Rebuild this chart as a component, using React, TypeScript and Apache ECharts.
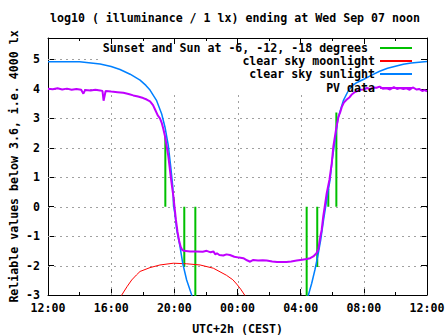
import React, { useEffect, useRef } from 'react';
import * as echarts from 'echarts';

const FONT = '"DejaVu Sans Mono", "Liberation Mono", monospace';

const titleText = 'log10 ( illuminance / 1 lx) ending at Wed Sep 07 noon';
const xAxisName = 'UTC+2h (CEST)';
const yAxisName = 'Reliable values below 3.6, i.e. 4000 lx';

const seriesNames = [
  'Sunset and Sun at -6, -12, -18 degrees',
  'clear sky moonlight',
  'clear sky sunlight',
  'PV data',
];
const seriesColors = ['#00c000', '#ff0000', '#0080ff', '#c000ff'];

// Grid line positions (hours / log10 lx)
const xGridTicks = [16, 20, 24, 28, 32];
const yGridTicks = [-2, -1, 0, 1, 2, 3, 4, 5];

// Sun events (hours since previous midnight, >24 = next day) and the value each marker reaches from 0
const sunHours = [19.43, 19.97, 20.63, 21.33, 28.38, 29.05, 29.75, 30.26];
const sunTops = [2.4, 0.25, -2.05, -3.4, -3.4, -2.05, 0.6, 3.2];

// Clear sky moonlight
const moonHours = [16.4, 16.67, 17.0, 17.3, 17.6, 17.83, 18.46, 19.09, 19.94, 20.78, 21.63, 22.47, 23.3, 23.7, 23.95, 24.2, 24.45, 24.6];
const moonValues = [-3.3, -3.0, -2.72, -2.49, -2.32, -2.2, -2.07, -1.98, -1.92, -1.94, -1.98, -2.09, -2.33, -2.48, -2.63, -2.8, -3.0, -3.15];

// Clear sky sunlight
const sunHoursCurve = [12.0, 14.0, 15.3, 16.0, 16.56, 17.2, 17.83, 18.2, 18.46, 18.88, 19.2, 19.41, 19.62, 19.77, 19.9, 19.96, 20.04, 20.15, 20.36, 20.53, 20.78, 21.1, 21.3,
  28.3, 28.49, 28.7, 28.9, 29.12, 29.27, 29.45, 29.65, 29.86, 30.0, 30.18, 30.35, 30.5, 30.7, 31.0, 31.25, 31.5, 32.0, 32.5, 33.0, 33.5, 34.0, 34.5, 35.0, 35.5, 36.0];
const sunValuesCurve = [4.92, 4.92, 4.85, 4.76, 4.66, 4.5, 4.3, 4.12, 3.96, 3.6, 3.15, 2.7, 2.07, 1.37, 0.69, 0.0, -0.25, -0.79, -1.36, -1.92, -2.49, -3.0, -3.5,
  -3.6, -3.0, -2.6, -2.15, -1.58, -1.13, -0.45, 0.23, 0.91, 1.6, 2.28, 2.96, 3.25, 3.6, 3.92, 4.1, 4.2, 4.33, 4.47, 4.6, 4.7, 4.77, 4.84, 4.88, 4.91, 4.93];

// PV measurements
const pvHours = [12.0, 12.3, 12.6, 12.9, 13.2, 13.5, 13.8, 14.1, 14.24, 14.35, 14.7, 15.0, 15.3, 15.45, 15.52, 15.58, 15.65, 16.0, 16.4, 16.77, 17.1, 17.4, 17.7, 18.03, 18.25, 18.46, 18.65, 18.78, 18.95, 19.09, 19.2, 19.3, 19.41, 19.52, 19.62, 19.7, 19.77, 19.85, 19.94, 20.02, 20.1, 20.2, 20.3, 20.4, 20.5, 20.6, 21.0, 21.4, 21.8, 22.05, 22.3, 22.47, 22.6, 22.7, 22.85, 23.1, 23.3, 23.52, 23.8, 24.1, 24.37, 24.6, 24.8, 25.0, 25.3, 25.6, 25.85, 26.2, 26.5, 26.8, 27.1, 27.4, 27.75, 28.1, 28.38, 28.6, 28.8, 29.0, 29.12, 29.18, 29.25, 29.33, 29.43, 29.54, 29.65, 29.82, 29.97, 30.07, 30.24, 30.39, 30.5, 30.6, 30.75, 30.92, 31.1, 31.23, 31.4, 31.55, 31.75, 31.97, 32.2, 32.4, 32.6, 32.8, 33.0, 33.2, 33.45, 33.66, 33.9, 34.1, 34.3, 34.5, 34.7, 34.9, 35.1, 35.35, 35.5, 35.7, 35.85, 36.0];
const pvValues = [4.01, 3.99, 4.02, 3.98, 4.01, 3.97, 4.0, 3.97, 3.84, 3.96, 3.95, 3.97, 3.95, 3.93, 3.6, 3.75, 3.93, 3.91, 3.89, 3.87, 3.83, 3.78, 3.74, 3.69, 3.64, 3.58, 3.45, 3.3, 3.1, 3.0, 2.85, 2.65, 2.39, 2.05, 1.71, 1.35, 1.03, 0.7, 0.35, -0.05, -0.45, -0.85, -1.15, -1.36, -1.47, -1.5, -1.52, -1.52, -1.53, -1.5, -1.55, -1.52, -1.62, -1.58, -1.64, -1.66, -1.62, -1.64, -1.7, -1.73, -1.75, -1.82, -1.87, -1.81, -1.83, -1.82, -1.83, -1.86, -1.88, -1.88, -1.88, -1.86, -1.83, -1.8, -1.78, -1.75, -1.69, -1.58, -1.45, -1.24, -1.0, -0.79, -0.33, 0.06, 0.46, 0.91, 1.48, 2.05, 2.62, 3.05, 3.2, 3.38, 3.55, 3.64, 3.72, 3.81, 3.88, 3.92, 3.97, 3.98, 4.03, 3.99, 4.05, 4.04, 4.08, 4.01, 4.02, 3.98, 4.06, 4.0, 4.03, 4.0, 4.02, 3.97, 4.05, 3.98, 4.0, 3.93, 3.96, 3.92];

const xMin = 12;
const xMax = 36;
const yMin = -3;
const yMax = 5.73;

const pair = (xs: number[], ys: number[]) => xs.map((x, i) => [x, ys[i]]);

const hourLabel = (v: number) => {
  const h = ((Math.round(v) % 24) + 24) % 24;
  return String(h).padStart(2, '0') + ':00';
};

export default function App() {
  const ref = useRef<HTMLDivElement>(null);
  useEffect(() => {
    if (!ref.current) return;
    const chart = echarts.init(ref.current, undefined, { renderer: 'svg' });
    const FS = 11.6;
    const textBase = { fontFamily: FONT, fontWeight: 'bold' as const, fontSize: FS, color: '#000' };

    const greenData: any[] = [];
    sunHours.forEach((h, i) => {
      greenData.push([h, 0], [h, sunTops[i]], [h, null]);
    });

    // the key area keeps grid lines out (gnuplot style): its lower-left corner in data units
    const keyLeftHour = 15.25;
    const keyBottomValue = 3.86;
    const gridData: number[][] = [];
    xGridTicks.forEach((x) => {
      gridData.push([x, yMin, x, x > keyLeftHour ? keyBottomValue : yMax]);
    });
    yGridTicks.forEach((y) => {
      gridData.push([xMin, y, y > keyBottomValue - 0.2 ? keyLeftHour : xMax, y]);
    });

    const axisLine = { show: true, onZero: false, lineStyle: { color: '#000', width: 1 } };
    const axisTick = { show: true, inside: true, length: 6, lineStyle: { color: '#000', width: 1 } };

    chart.setOption({
      animation: false,
      backgroundColor: '#fff',
      title: {
        text: titleText,
        left: 50,
        top: 12,
        padding: 0,
        textStyle: textBase,
      },
      grid: { left: 48, right: 20, top: 38, bottom: 40, containLabel: false, outerBoundsMode: 'none' },
      legend: seriesNames.map((n, i) => ({
        data: [n],
        right: 35,
        top: [42, 55, 68, 82][i],
        orient: 'horizontal',
        align: 'right',
        padding: 0,
        itemWidth: 32,
        itemHeight: 2,
        icon: 'rect',
        itemStyle: { borderWidth: 0 },
        selectedMode: false,
        formatter: i === 0 ? '{a|{name}}' : '{name}',
        textStyle: {
          ...textBase,
          rich: { a: { ...textBase, padding: [0, 7, 0, 0] } },
        },
      })),
      xAxis: [
        {
          type: 'value',
          min: xMin,
          max: xMax,
          interval: 4,
          position: 'bottom',
          axisLine,
          axisTick,
          minorTick: { show: true, splitNumber: 2, length: 3, lineStyle: { color: '#000' } },
          splitLine: { show: false },
          axisLabel: { ...textBase, margin: 7, formatter: hourLabel },
          name: xAxisName,
          nameLocation: 'middle',
          nameGap: 28,
          nameTextStyle: textBase,
        },
        {
          type: 'value',
          min: xMin,
          max: xMax,
          interval: 4,
          position: 'top',
          axisLine,
          axisTick,
          minorTick: { show: true, splitNumber: 2, length: 3, lineStyle: { color: '#000' } },
          splitLine: { show: false },
          axisLabel: { show: false },
        },
      ],
      yAxis: [
        {
          type: 'value',
          min: yMin,
          max: yMax,
          interval: 1,
          position: 'left',
          axisLine,
          axisTick,
          splitLine: { show: false },
          axisLabel: {
            ...textBase,
            margin: 8,
            showMaxLabel: false,
            formatter: (v: number) => (Math.abs(v - Math.round(v)) < 1e-6 ? String(Math.round(v)) : ''),
          },
          name: yAxisName,
          nameLocation: 'middle',
          nameRotate: 90,
          nameGap: 28,
          nameMoveOverlap: false,
          nameTextStyle: textBase,
        },
        {
          type: 'value',
          min: yMin,
          max: yMax,
          interval: 1,
          position: 'right',
          axisLine,
          axisTick,
          splitLine: { show: false },
          axisLabel: { show: false },
        },
      ],
      series: [
        {
          type: 'custom',
          silent: true,
          z: 1,
          data: gridData,
          encode: { x: [0, 2], y: [1, 3] },
          renderItem: (_params: any, api: any) => {
            const p1 = api.coord([api.value(0), api.value(1)]);
            const p2 = api.coord([api.value(2), api.value(3)]);
            const vertical = api.value(0) === api.value(2);
            const snap = (v: number) => Math.round(v) + 0.5;
            return {
              type: 'line',
              shape: vertical
                ? { x1: snap(p1[0]), y1: p1[1], x2: snap(p2[0]), y2: p2[1] }
                : { x1: p1[0], y1: snap(p1[1]), x2: p2[0], y2: snap(p2[1]) },
              style: { stroke: '#a0a0a0', lineWidth: 1, lineDash: [2, 4], fill: null },
            };
          },
        },
        {
          name: seriesNames[0],
          type: 'line',
          data: greenData,
          symbol: 'none',
          connectNulls: false,
          color: seriesColors[0],
          lineStyle: { color: seriesColors[0], width: 2 },
          z: 2,
        },
        {
          name: seriesNames[1],
          type: 'line',
          data: pair(moonHours, moonValues),
          symbol: 'none',
          color: seriesColors[1],
          lineStyle: { color: seriesColors[1], width: 1 },
          z: 2,
        },
        {
          name: seriesNames[2],
          type: 'line',
          data: pair(sunHoursCurve, sunValuesCurve),
          symbol: 'none',
          color: seriesColors[2],
          lineStyle: { color: seriesColors[2], width: 1.5 },
          z: 2,
        },
        {
          name: seriesNames[3],
          type: 'line',
          data: pair(pvHours, pvValues),
          symbol: 'none',
          color: seriesColors[3],
          lineStyle: { color: seriesColors[3], width: 2 },
          z: 2,
        },
      ],
    });
    return () => chart.dispose();
  }, []);
  return <div ref={ref} style={{ position: 'absolute', left: 0, top: 0, width: 447, height: 335 }} />;
}
